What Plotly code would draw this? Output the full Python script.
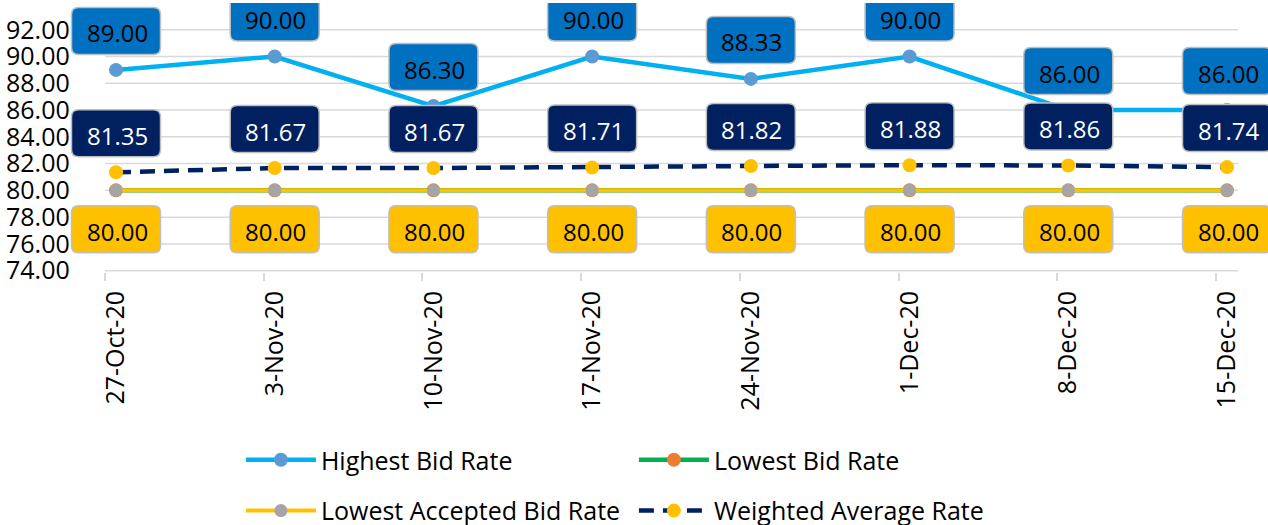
import plotly.graph_objects as go

dates = ["27-Oct-20", "3-Nov-20", "10-Nov-20", "17-Nov-20",
         "24-Nov-20", "1-Dec-20", "8-Dec-20", "15-Dec-20"]
highest_bid = [89.00, 90.00, 86.30, 90.00, 88.33, 90.00, 86.00, 86.00]
lowest_bid = [80.00, 80.00, 80.00, 80.00, 80.00, 80.00, 80.00, 80.00]
lowest_accepted = [80.00, 80.00, 80.00, 80.00, 80.00, 80.00, 80.00, 80.00]
weighted_avg = [81.35, 81.67, 81.67, 81.71, 81.82, 81.88, 81.86, 81.74]
y_ticks = [74, 76, 78, 80, 82, 84, 86, 88, 90, 92]

FONT = "Open Sans"
GRID = "#D9D9D9"
idx = list(range(len(dates)))
PAD = 0.069          # gap between plot-area edge and first/last category
STEP_PX = 158.714    # pixel distance between categories
FIRST_PX = 116       # pixel x of first category
W, H = 1268, 525

fig = go.Figure()
fig.add_trace(go.Scatter(x=idx, y=highest_bid, name="Highest Bid Rate", mode="lines+markers",
                         line=dict(color="#00B0F0", width=4.5),
                         marker=dict(color="#5B9BD5", size=14), legend="legend"))
fig.add_trace(go.Scatter(x=idx, y=lowest_bid, name="Lowest Bid Rate", mode="lines+markers",
                         line=dict(color="#00B050", width=4.5),
                         marker=dict(color="#ED7D31", size=14), legend="legend"))
fig.add_trace(go.Scatter(x=idx, y=lowest_accepted, name="Lowest Accepted Bid Rate", mode="lines+markers",
                         line=dict(color="#FFC000", width=4),
                         marker=dict(color="#A5A5A5", size=13), legend="legend2"))
fig.add_trace(go.Scatter(x=idx, y=weighted_avg, name="Weighted Average Rate", mode="lines+markers",
                         line=dict(color="#002060", width=4.5, dash="15px,9px"),
                         marker=dict(color="#FFC000", size=14), legend="legend2"))


def rounded_box(cy, w=89, h=47, r=7):
    x0, x1 = -w / 2, w / 2
    y0, y1 = cy - h / 2, cy + h / 2
    return (f"M{x0 + r},{y0} L{x1 - r},{y0} Q{x1},{y0} {x1},{y0 + r} "
            f"L{x1},{y1 - r} Q{x1},{y1} {x1 - r},{y1} L{x0 + r},{y1} "
            f"Q{x0},{y1} {x0},{y1 - r} L{x0},{y0 + r} Q{x0},{y0} {x0 + r},{y0} Z")


shapes = []
# gridlines (the lowest one doubles as the category axis line), limited to the plot area
for t in y_ticks:
    shapes.append(dict(type="line", xref="x", yref="y", x0=-PAD, x1=idx[-1] + PAD, y0=t, y1=t,
                       line=dict(color=GRID, width=1.5), layer="below"))

annotations = []
label_specs = [
    (highest_bid, 39, "#0070C0", "#000000"),
    (weighted_avg, 39, "#002060", "#FFFFFF"),
    (lowest_accepted, -39, "#FFC000", "#000000"),
]
for values, off, fill, tcol in label_specs:
    for i, v in zip(idx, values):
        shapes.append(dict(type="path", xref="x", yref="y",
                           xsizemode="pixel", ysizemode="pixel",
                           xanchor=i, yanchor=v, path=rounded_box(off),
                           fillcolor=fill, line=dict(color="#BFBFBF", width=1.5),
                           layer="above"))
        annotations.append(dict(x=i, y=v, xref="x", yref="y", text=f"{v:.2f}",
                                showarrow=False, yshift=off - 2, xshift=1,
                                font=dict(family=FONT, size=24, color=tcol)))

legend_common = dict(orientation="h", xanchor="left", yanchor="middle",
                     entrywidth=308, entrywidthmode="pixels", itemwidth=70,
                     font=dict(family=FONT, size=25, color="#000000"),
                     bgcolor="rgba(0,0,0,0)", tracegroupgap=0)

x_lo = -FIRST_PX / STEP_PX
x_hi = (W - FIRST_PX) / STEP_PX
Y_LO = 73.9
Y_HI = 94

fig.update_layout(
    width=W, height=H,
    margin=dict(l=0, r=0, t=2.5, b=252.7, autoexpand=False),
    paper_bgcolor="#FFFFFF", plot_bgcolor="#FFFFFF",
    font=dict(family=FONT, color="#000000"),
    shapes=shapes, annotations=annotations,
    legend=dict(x=0.190, y=-0.699, **legend_common),
    legend2=dict(x=0.190, y=-0.888, **legend_common),
    xaxis=dict(range=[x_lo, x_hi], tickmode="array", tickvals=idx, ticktext=dates,
               tickangle=-90, ticks="", showgrid=False, zeroline=False, showline=False,
               ticklabelstandoff=13,
               tickfont=dict(family=FONT, size=25, color="#000000"),
               minor=dict(tickmode="array", tickvals=[i - PAD for i in idx], ticks="outside",
                          ticklen=8, tickwidth=1.5, tickcolor=GRID, showgrid=False)),
    yaxis=dict(range=[Y_LO, Y_HI], tickmode="array", tickvals=y_ticks, tickformat=".2f",
               showgrid=False, zeroline=False, showline=False, ticks="",
               anchor="free", position=0, side="right", ticklabelstandoff=5,
               tickfont=dict(family=FONT, size=25, color="#000000")),
)

fig.write_html("out.html")
